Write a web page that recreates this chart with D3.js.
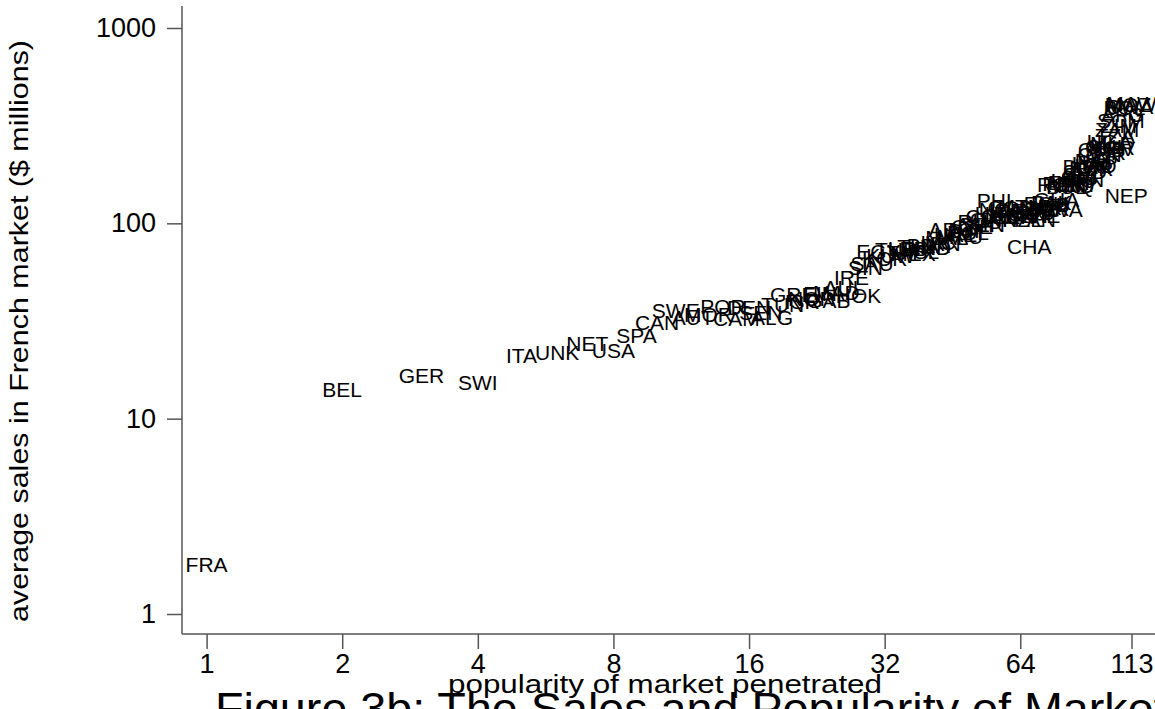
<!DOCTYPE html>
<html>
<head>
    <meta charset="utf-8">
    <title>Sales and popularity of markets</title>
    <script type="text/javascript" src="https://cdn.jsdelivr.net/npm/d3@7"></script>
    <style>
        body { margin: 0; background: #fff; }
        svg text { font-family: "Liberation Sans", Arial, sans-serif; fill: #000; }
        .axis path, .axis line { stroke: #555; stroke-width: 1.5; }
        .lbl { font-size: 21px; }
    </style>
</head>
<body>
<script type="text/javascript">
// market codes, ordered by popularity rank (1 = most popular)
var markets = [
    "FRA", "BEL", "GER", "SWI", "ITA", "UNK", "NET", "USA", "SPA", "CAN",
    "SWE", "AUT", "MOR", "POR", "CAM", "DEN", "SEN", "ALG", "TUN", "GRE",
    "ISR", "NOR", "FIN", "GAB", "MAD", "AUL", "IRE", "HOK", "SIN", "SAU",
    "EGY", "KOR", "KUW", "TUR", "TAI", "LEB", "MEX", "THA", "ISL", "BRA",
    "IND", "IVC", "IRN", "MAL", "ARG", "UAE", "MAU", "DJI", "POL", "CZE",
    "CHI", "RUS", "VEN", "COL", "QAT", "PHI", "HUN", "NCA", "GUA", "ICE",
    "CON", "KEN", "TOG", "MTN", "NZE", "BEN", "CHA", "CUB", "PAN", "NIC",
    "SYR", "VIE", "ECU", "JOR", "PAK", "LIB", "GHA", "RWA", "ROM", "PER",
    "BUL", "ETH", "YEM", "URU", "IRQ", "ALB", "SRI", "BAN", "SUD", "DOM",
    "HAI", "BUR", "NIG", "LAO", "PAP", "CEN", "GMB", "GUI", "LBR", "MLI",
    "UGA", "NGR", "CPV", "TZA", "ZAM", "ZIM", "SOM", "AFG", "BOL", "NEP",
    "MOZ", "SWA", "MAW"
];

// average sales in French market ($ millions), same order
var avgSales = [
    1.78, 14.0, 16.7, 15.2, 20.9, 21.7, 24.1, 22.2, 26.5, 30.9,
    35.6, 33.0, 34.0, 37.5, 32.5, 37.0, 35.0, 32.8, 38.5, 43.0,
    39.5, 41.0, 43.5, 40.0, 44.0, 46.8, 53.0, 42.5, 59.0, 62.0,
    72.0, 66.0, 68.0, 73.5, 71.0, 74.0, 70.0, 76.0, 72.0, 77.0,
    75.0, 80.0, 79.0, 84.0, 93.0, 88.0, 85.0, 92.0, 90.0, 96.0,
    98.0, 102, 99.0, 108, 104, 130, 112, 118, 110, 116,
    120, 108, 112, 122, 105, 110, 75.7, 113, 104, 117,
    121, 109, 126, 119, 128, 124, 132, 118, 157, 160,
    154, 162, 158, 165, 156, 172, 178, 168, 184, 195,
    203, 190, 210, 198, 205, 225, 237, 248, 230, 255,
    262, 243, 240, 282, 300, 315, 335, 360, 390, 138,
    405, 395, 410
];

var xTicks = [1, 2, 4, 8, 16, 32, 64, 113];
var yTicks = [1, 10, 100, 1000];

var width = 1155, height = 709;
var plotLeft = 182, plotBottom = 634, plotTop = 6;

var svg = d3.select("body").append("svg")
        .attr("width", width)
        .attr("height", height);

var x = d3.scaleLog().base(2)
        .domain([1, 113])
        .range([206.6, 1131.5]);

var y = d3.scaleLog()
        .domain([1, 1000])
        .range([614, 28]);

// axes
var xAxis = d3.axisBottom(x)
        .tickValues(xTicks)
        .tickFormat(d3.format("d"))
        .tickSize(15)
        .tickPadding(5)
        .tickSizeOuter(0);

var yAxis = d3.axisLeft(y)
        .tickValues(yTicks)
        .tickFormat(d3.format("d"))
        .tickSize(15)
        .tickPadding(11)
        .tickSizeOuter(0);

var gx = svg.append("g")
        .attr("class", "x axis")
        .attr("transform", "translate(0," + plotBottom + ")")
        .call(xAxis);
gx.select("path.domain").attr("d", "M" + plotLeft + ",0H" + width);
gx.selectAll("text").style("font-size", "27px");

var gy = svg.append("g")
        .attr("class", "y axis")
        .attr("transform", "translate(" + plotLeft + ",0)")
        .call(yAxis);
gy.select("path.domain").attr("d", "M0," + plotTop + "V" + plotBottom);
gy.selectAll("text").style("font-size", "27px");

// market labels (no markers, label centred on the point)
var pts = markets.map(function (m, i) {
    return {code: m, rank: i + 1, sales: avgSales[i]};
});

svg.append("g")
        .attr("class", "labels")
        .selectAll("text")
        .data(pts)
        .enter()
        .append("text")
        .attr("class", "lbl")
        .attr("x", function (d) { return x(d.rank); })
        .attr("y", function (d) { return y(d.sales); })
        .attr("dy", "0.35em")
        .attr("text-anchor", "middle")
        .text(function (d) { return d.code; });

// axis titles
svg.append("text")
        .attr("x", 665)
        .attr("y", 693)
        .attr("text-anchor", "middle")
        .attr("textLength", 434)
        .attr("lengthAdjust", "spacingAndGlyphs")
        .style("font-size", "26px")
        .text("popularity of market penetrated");

svg.append("text")
        .attr("transform", "translate(28,331) rotate(-90)")
        .attr("text-anchor", "middle")
        .attr("textLength", 582)
        .attr("lengthAdjust", "spacingAndGlyphs")
        .style("font-size", "26px")
        .text("average sales in French market ($ millions)");

svg.append("text")
        .attr("x", 215)
        .attr("y", 724)
        .attr("textLength", 975)
        .attr("lengthAdjust", "spacingAndGlyphs")
        .style("font-size", "44px")
        .text("Figure 3b: The Sales and Popularity of Markets");
</script>
</body>
</html>
